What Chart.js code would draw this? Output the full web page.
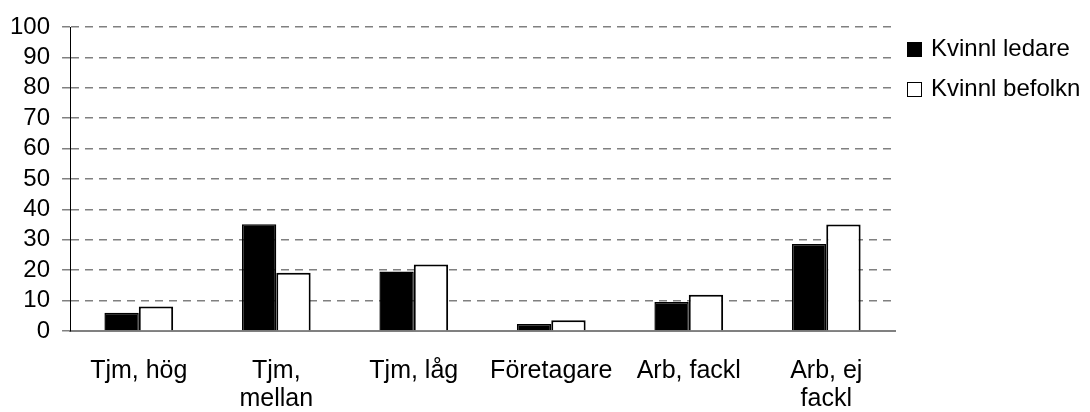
<!DOCTYPE html>
<html>
<head>
<meta charset="utf-8">
<script src="https://cdn.jsdelivr.net/npm/chart.js@4/dist/chart.umd.min.js"></script>
<style>
  html, body { margin: 0; padding: 0; background: #fff; }
  #wrap { width: 1090px; height: 412px; position: relative; }
</style>
</head>
<body>
<div id="wrap"><canvas id="chart"></canvas></div>
<script>
// data (percent)
const categories = [["Tjm, hög"], ["Tjm,", "mellan"], ["Tjm, låg"], ["Företagare"], ["Arb, fackl"], ["Arb, ej", "fackl"]];
const seriesNames = ["Kvinnl ledare", "Kvinnl befolkn"];
const ledare = [6.0, 35.1, 19.6, 2.3, 9.5, 28.6];
const befolkn = [8.1, 19.2, 21.9, 3.5, 11.9, 35.0];
const yTicks = [0, 10, 20, 30, 40, 50, 60, 70, 80, 90, 100];

const FONT = "'Liberation Sans', Arial, sans-serif";

// legend on the right, drawn by hand so it sits where the original has it
const sideLegend = {
  id: 'sideLegend',
  afterDraw(chart) {
    const ctx = chart.ctx;
    ctx.save();
    ctx.font = "24px " + FONT;
    ctx.textBaseline = "alphabetic";
    chart.data.datasets.forEach(function(ds, i) {
      let base = 56 + i * 40;
      ctx.fillStyle = ds.backgroundColor;
      ctx.fillRect(907, base - 14, 15, 15);
      ctx.strokeStyle = "#000";
      ctx.lineWidth = 1;
      ctx.strokeRect(907.5, base - 13.5, 14, 14);
      ctx.fillStyle = "#000";
      ctx.fillText(ds.label, 931, base);
    });
    ctx.restore();
  }
};

new Chart(document.getElementById("chart"), {
  type: 'bar',
  data: {
    labels: categories,
    datasets: [
      {label: seriesNames[0], data: ledare, backgroundColor: "#000", borderColor: "#000", borderWidth: 1.5},
      {label: seriesNames[1], data: befolkn, backgroundColor: "#fff", borderColor: "#000", borderWidth: 2}
    ]
  },
  options: {
    responsive: true,
    maintainAspectRatio: false,
    animation: false,
    layout: {padding: {left: -2, right: 195, top: 27, bottom: 0}},
    categoryPercentage: 0.5,
    barPercentage: 1.0,
    plugins: {
      legend: {display: false},
      tooltip: {enabled: false}
    },
    scales: {
      x: {
        grid: {display: false, drawTicks: false},
        border: {color: "#808080", width: 2},
        ticks: {color: "#000", font: {family: FONT, size: 25, lineHeight: 1.13}, padding: 26, maxRotation: 0, autoSkip: false},
        afterFit: function(scale) { scale.height = 81; }
      },
      y: {
        min: 0,
        max: 100,
        afterBuildTicks: function(axis) { axis.ticks = yTicks.map(v => ({value: v})); },
        grid: {color: "#808080", lineWidth: 1.5, tickLength: 8},
        border: {color: "#000", width: 1, dash: [8, 6]},
        ticks: {color: "#000", font: {family: FONT, size: 24}, padding: 12, autoSkip: false}
      }
    }
  },
  plugins: [sideLegend]
});
</script>
</body>
</html>
